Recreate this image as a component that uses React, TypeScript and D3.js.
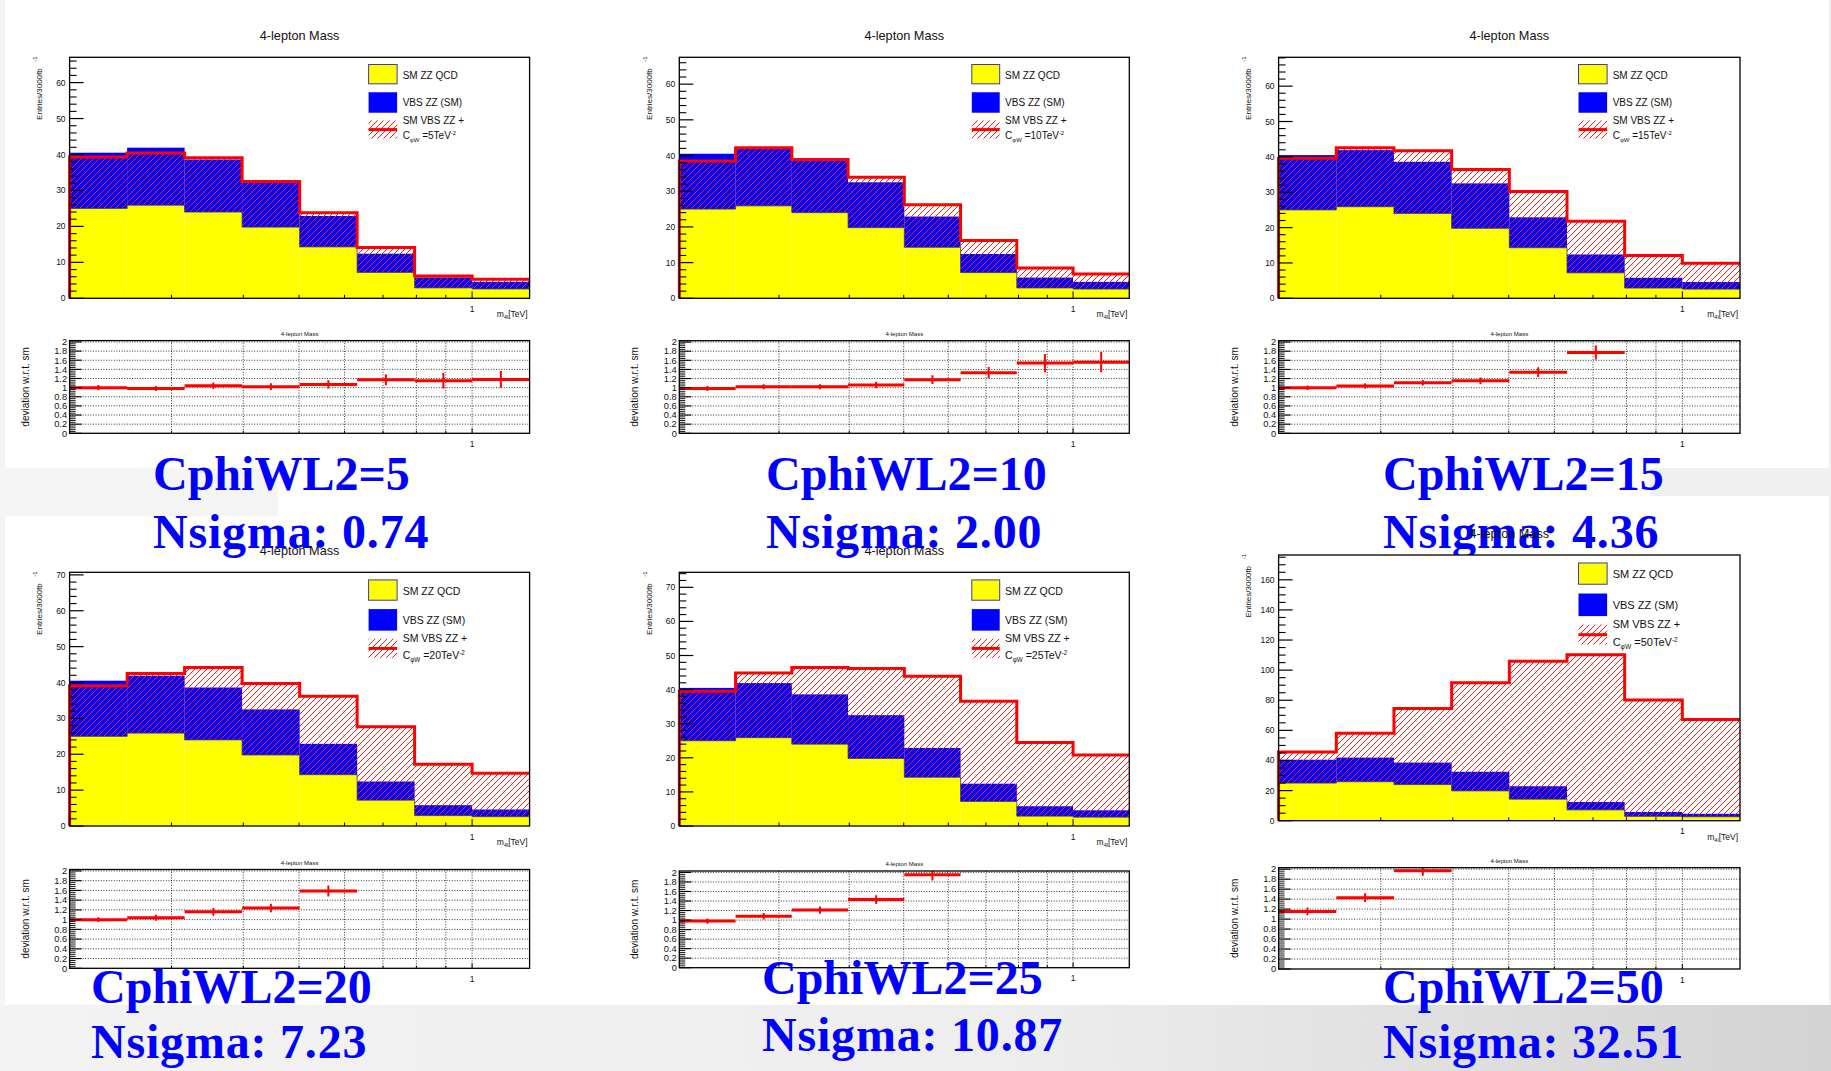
import React from "react";
import * as d3 from "d3";

// ---------------- DATA ----------------
const binEdges = [0.1995, 0.2512, 0.3162, 0.3981, 0.5012, 0.631, 0.7943, 1.0, 1.2589];
const xMinorTicks = [0.3, 0.4, 0.5, 0.6, 0.7, 0.8, 0.9];
const xMajorTicks = [1];
const xTickLabels = ["1"];

// SM ZZ QCD (yellow) and VBS ZZ SM (blue, stacked on QCD)
const smZZQCD = [25.0, 25.9, 24.0, 19.8, 14.3, 7.2, 2.9, 2.6];
const vbsZZSM = [15.5, 16.0, 14.6, 12.7, 8.6, 5.2, 2.9, 2.0];

const cphiValues = [5, 10, 15, 20, 25, 50];
const nsigmaValues = ["0.74", "2.00", "4.36", "7.23", "10.87", "32.51"];

// stacked total (QCD + SM VBS ZZ + EFT), red hatched
const eftC5 = [39.3, 40.4, 39.1, 32.5, 23.8, 14.1, 6.2, 5.3];
const eftC10 = [38.5, 42.2, 38.9, 33.9, 26.2, 16.2, 8.5, 6.8];
const eftC15 = [39.6, 42.6, 41.7, 36.4, 30.2, 21.8, 12.1, 9.9];
const eftC20 = [39.1, 42.5, 44.2, 39.7, 36.2, 27.7, 17.2, 14.7];
const eftC25 = [39.5, 44.9, 46.5, 46.2, 43.9, 36.6, 24.5, 20.8];
const eftC50 = [45.7, 58.1, 74.6, 91.7, 105.9, 110.3, 80.1, 67.2];

// deviation w.r.t. SM (only the bins visible inside 0..2)
const ratioC5 = [1.0, 0.98, 1.04, 1.02, 1.07, 1.17, 1.15, 1.18];
const ratioErrC5 = [0.06, 0.055, 0.07, 0.074, 0.09, 0.12, 0.17, 0.185];
const ratioC10 = [0.98, 1.02, 1.02, 1.06, 1.175, 1.33, 1.54, 1.56];
const ratioErrC10 = [0.055, 0.055, 0.055, 0.07, 0.095, 0.124, 0.2, 0.22];
const ratioC15 = [1.0, 1.036, 1.11, 1.15, 1.34, 1.77];
const ratioErrC15 = [0.05, 0.055, 0.06, 0.075, 0.106, 0.153];
const ratioC20 = [1.0, 1.04, 1.16, 1.24, 1.59];
const ratioErrC20 = [0.05, 0.062, 0.079, 0.086, 0.113];
const ratioC25 = [0.98, 1.08, 1.21, 1.43, 1.95];
const ratioErrC25 = [0.055, 0.07, 0.076, 0.093, 0.117];
const ratioC50 = [1.153, 1.43, 1.97];
const ratioErrC50 = [0.077, 0.087, 0.1];

const eftSeries = [eftC5, eftC10, eftC15, eftC20, eftC25, eftC50];
const ratioSeries = [ratioC5, ratioC10, ratioC15, ratioC20, ratioC25, ratioC50];
const ratioErrSeries = [ratioErrC5, ratioErrC10, ratioErrC15, ratioErrC20, ratioErrC25, ratioErrC50];

// ---------------- LAYOUT ----------------
type Layout = { x0: number; x1: number; y0: number; y1: number; ry0: number; ry1: number };
const layouts: Layout[] = [
  { x0: 69.6, x1: 529.6, y0: 57.3, y1: 298.3, ry0: 340.6, ry1: 433.3 },
  { x0: 679.3, x1: 1129.3, y0: 57.3, y1: 298.3, ry0: 340.7, ry1: 433.3 },
  { x0: 1278.6, x1: 1740, y0: 57.3, y1: 298.3, ry0: 340.7, ry1: 433.3 },
  { x0: 69.6, x1: 529.6, y0: 572.3, y1: 826, ry0: 869.5, ry1: 968.3 },
  { x0: 679.3, x1: 1129.3, y0: 572.3, y1: 826, ry0: 871, ry1: 967.7 },
  { x0: 1278.6, x1: 1740, y0: 555, y1: 820.7, ry0: 867.7, ry1: 969 },
];
const labelPos = [
  { x: 153, y1: 490, y2: 548 },
  { x: 766, y1: 490, y2: 548 },
  { x: 1383, y1: 490, y2: 548 },
  { x: 91, y1: 1003, y2: 1058 },
  { x: 762, y1: 994, y2: 1051 },
  { x: 1383, y1: 1003, y2: 1058 },
];

const SANS = "'Liberation Sans', Arial, Helvetica, sans-serif";
const SERIF = "'Liberation Serif', 'Times New Roman', serif";
const RED = "#ff0000";

function stepPath(x: any, y: any, vals: number[], fromZero: boolean) {
  let d = "";
  vals.forEach((v, i) => {
    const xa = x(binEdges[i]);
    const xb = x(binEdges[i + 1]);
    if (i === 0) d += fromZero ? `M${xa},${y(0)}V${y(v)}H${xb}` : `M${xa},${y(v)}H${xb}`;
    else d += `V${y(v)}H${xb}`;
  });
  return d;
}

function Panel({ idx }: { idx: number }) {
  const L = layouts[idx];
  const eft = eftSeries[idx];
  const cval = cphiValues[idx];
  const W = L.x1 - L.x0;
  const Hm = L.y1 - L.y0;
  const x = d3.scaleLog().domain([binEdges[0], binEdges[8]]).range([L.x0, L.x1]);
  const totals = smZZQCD.map((q, i) => q + vbsZZSM[i]);
  const ymax = 1.6 * (d3.max([...eft, ...totals]) as number);
  const y = d3.scaleLinear().domain([0, ymax]).range([L.y1, L.y0]);
  const major = ymax > 100 ? 20 : 10;
  const minor = ymax > 100 ? 5 : 2;
  const majorTicks = d3.range(0, ymax + 1e-6, major);
  const minorTicks = d3.range(0, ymax, minor).filter((v) => Math.abs(v / major - Math.round(v / major)) > 1e-6);

  const ry = d3.scaleLinear().domain([0, 2.03]).range([L.ry1, L.ry0]);
  const rMajor = d3.range(0, 2.0001, 0.2);
  const rMinor = d3.range(0, 2.03, 0.04).filter((v) => Math.abs(v / 0.2 - Math.round(v / 0.2)) > 1e-6);
  const ratio = ratioSeries[idx];
  const rErr = ratioErrSeries[idx];

  // legend
  const lx = L.x0 + 0.65 * W;
  const bw = 0.062 * W;
  const tx = L.x0 + 0.724 * W;
  const lfs = Hm * 0.0415;
  const clipId = `rclip${idx}`;
  const mclip = `mclip${idx}`;

  return (
    <g>
      <defs>
        <clipPath id={clipId}>
          <rect x={L.x0} y={L.ry0} width={W} height={L.ry1 - L.ry0} />
        </clipPath>
        <clipPath id={mclip}>
          <rect x={L.x0 - 2} y={L.y0} width={W + 2} height={Hm + 2} />
        </clipPath>
      </defs>
      {/* ---- main plot ---- */}
      <text x={(L.x0 + L.x1) / 2} y={L.y0 - 17.5} textAnchor="middle" fontFamily={SANS} fontSize={12.7} fill="#111">
        4-lepton Mass
      </text>
      <rect x={L.x0} y={L.y0} width={W} height={Hm} fill="#fff" />
      {smZZQCD.map((q, i) => (
        <rect key={"yq" + i} x={x(binEdges[i])} y={y(q)} width={x(binEdges[i + 1]) - x(binEdges[i])} height={y(0) - y(q)} fill="#ffff00" />
      ))}
      {totals.map((t, i) => (
        <rect key={"bv" + i} x={x(binEdges[i])} y={y(t)} width={x(binEdges[i + 1]) - x(binEdges[i])} height={y(smZZQCD[i]) - y(t)} fill="#0000ff" />
      ))}
      {eft.map((t, i) => (
        <rect key={"he" + i} x={x(binEdges[i])} y={y(t)} width={x(binEdges[i + 1]) - x(binEdges[i])} height={Math.max(0, y(smZZQCD[i]) - y(t))} fill="url(#hatch)" />
      ))}
      <path d={stepPath(x, y, smZZQCD, false)} fill="none" stroke="#3a3a5a" strokeWidth={0.8} />
      <path d={stepPath(x, y, eft, true)} fill="none" stroke={RED} strokeWidth={3} clipPath={`url(#${mclip})`} />
      <rect x={L.x0} y={L.y0} width={W} height={Hm} fill="none" stroke="#000" strokeWidth={1.3} />
      {/* y ticks */}
      {majorTicks.map((v) => (
        <g key={"ym" + v}>
          <line x1={L.x0} x2={L.x0 + 14} y1={y(v)} y2={y(v)} stroke="#000" strokeWidth={1.2} />
          <text x={L.x0 - 4} y={y(v) + 3} textAnchor="end" fontFamily={SANS} fontSize={8.5} fill="#111">
            {v}
          </text>
        </g>
      ))}
      {minorTicks.map((v) => (
        <line key={"yn" + v} x1={L.x0} x2={L.x0 + 7} y1={y(v)} y2={y(v)} stroke="#000" strokeWidth={1.1} />
      ))}
      {/* x ticks */}
      {xMinorTicks.map((v) => (
        <line key={"xn" + v} x1={x(v)} x2={x(v)} y1={L.y1} y2={L.y1 - 3.5} stroke="#000" strokeWidth={1} />
      ))}
      {xMajorTicks.map((v, i) => (
        <g key={"xm" + v}>
          <line x1={x(v)} x2={x(v)} y1={L.y1} y2={L.y1 - 7} stroke="#000" strokeWidth={1} />
          <text x={x(v)} y={L.y1 + 13.5} textAnchor="middle" fontFamily={SANS} fontSize={8.5} fill="#111">
            {xTickLabels[i]}
          </text>
        </g>
      ))}
      <text x={L.x1 - 2} y={L.y1 + 19} textAnchor="end" fontFamily={SANS} fontSize={8.5} fill="#111">
        m<tspan fontSize={5.5} dy={2}>4l</tspan>
        <tspan dy={-2}>[TeV]</tspan>
      </text>
      <text transform={`translate(${L.x0 - 27.5},${L.y0 + 11}) rotate(-90)`} textAnchor="end" fontFamily={SANS} fontSize={8} fill="#111">
        Entries/3000fb
      </text>
      <text transform={`translate(${L.x0 - 32.5},${L.y0 - 1}) rotate(-90)`} textAnchor="end" fontFamily={SANS} fontSize={6} fill="#111">
        -1
      </text>
      {/* legend */}
      <rect x={lx} y={L.y0 + 0.03 * Hm} width={bw} height={0.08 * Hm} fill="#ffff00" stroke="#3c3ca0" strokeWidth={1} />
      <rect x={lx} y={L.y0 + 0.145 * Hm} width={bw} height={0.085 * Hm} fill="#0000ff" />
      <rect x={lx} y={L.y0 + 0.262 * Hm} width={bw} height={0.075 * Hm} fill="url(#hatch)" />
      <line x1={lx} x2={lx + bw} y1={L.y0 + 0.3 * Hm} y2={L.y0 + 0.3 * Hm} stroke={RED} strokeWidth={3} />
      <text x={tx} y={L.y0 + 0.088 * Hm} fontFamily={SANS} fontSize={lfs} fill="#111">SM ZZ QCD</text>
      <text x={tx} y={L.y0 + 0.203 * Hm} fontFamily={SANS} fontSize={lfs} fill="#111">VBS ZZ (SM)</text>
      <text x={tx} y={L.y0 + 0.276 * Hm} fontFamily={SANS} fontSize={lfs} fill="#111">SM VBS ZZ +</text>
      <text x={tx} y={L.y0 + 0.341 * Hm} fontFamily={SANS} fontSize={lfs} fill="#111">
        C<tspan fontSize={lfs * 0.6} dy={3}>φW</tspan>
        <tspan dy={-3}>{` =${cval}TeV`}</tspan>
        <tspan fontSize={lfs * 0.6} dy={-4}>-2</tspan>
      </text>

      {/* ---- ratio plot ---- */}
      <text x={(L.x0 + L.x1) / 2} y={L.ry0 - 5} textAnchor="middle" fontFamily={SANS} fontSize={6} fill="#111">
        4-lepton Mass
      </text>
      <rect x={L.x0} y={L.ry0} width={W} height={L.ry1 - L.ry0} fill="#fff" />
      {rMajor.filter((v) => v > 0).map((v) => (
        <line key={"rg" + v} x1={L.x0} x2={L.x1} y1={ry(v)} y2={ry(v)} stroke="#000" strokeWidth={0.8} strokeDasharray="1,1.6" />
      ))}
      {[...xMinorTicks, ...xMajorTicks].map((v) => (
        <line key={"rgx" + v} x1={x(v)} x2={x(v)} y1={L.ry0} y2={L.ry1} stroke="#000" strokeWidth={0.8} strokeDasharray="1,1.6" />
      ))}
      <g clipPath={`url(#${clipId})`}>
        {ratio.map((r, i) => {
          const xc = x(Math.sqrt(binEdges[i] * binEdges[i + 1]));
          return (
            <g key={"rp" + i}>
              <line x1={x(binEdges[i])} x2={x(binEdges[i + 1])} y1={ry(r)} y2={ry(r)} stroke={RED} strokeWidth={3} />
              <line x1={xc} x2={xc} y1={ry(r - rErr[i])} y2={ry(r + rErr[i])} stroke={RED} strokeWidth={2} />
            </g>
          );
        })}
      </g>
      <rect x={L.x0} y={L.ry0} width={W} height={L.ry1 - L.ry0} fill="none" stroke="#000" strokeWidth={1.3} />
      {rMajor.map((v) => (
        <g key={"rm" + v}>
          <line x1={L.x0} x2={L.x0 + 12} y1={ry(v)} y2={ry(v)} stroke="#000" strokeWidth={1.1} />
          <text x={L.x0 - 2.5} y={ry(v) + 3.3} textAnchor="end" fontFamily={SANS} fontSize={9.3} fill="#111">
            {String(+v.toFixed(1))}
          </text>
        </g>
      ))}
      {rMinor.map((v) => (
        <line key={"rn" + v} x1={L.x0} x2={L.x0 + 6} y1={ry(v)} y2={ry(v)} stroke="#000" strokeWidth={0.9} />
      ))}
      {xMinorTicks.map((v) => (
        <line key={"rxn" + v} x1={x(v)} x2={x(v)} y1={L.ry1} y2={L.ry1 - 2.5} stroke="#000" strokeWidth={1} />
      ))}
      {xMajorTicks.map((v, i) => (
        <g key={"rxm" + v}>
          <line x1={x(v)} x2={x(v)} y1={L.ry1} y2={L.ry1 - 5} stroke="#000" strokeWidth={1} />
          <text x={x(v)} y={L.ry1 + 13.5} textAnchor="middle" fontFamily={SANS} fontSize={8.5} fill="#111">
            {xTickLabels[i]}
          </text>
        </g>
      ))}
      <text transform={`translate(${L.x0 - 41},${(L.ry0 + L.ry1) / 2}) rotate(-90)`} textAnchor="middle" fontFamily={SANS} fontSize={10} fill="#111">
        deviation w.r.t. sm
      </text>
    </g>
  );
}

function Label({ idx }: { idx: number }) {
  const p = labelPos[idx];
  return (
    <g fontFamily={SERIF} fontWeight="bold" fontSize={48} fill="#0000ff">
      <text x={p.x} y={p.y1}>{`CphiWL2=${cphiValues[idx]}`}</text>
      <text x={p.x} y={p.y2} letterSpacing={0.8}>{`Nsigma: ${nsigmaValues[idx]}`}</text>
    </g>
  );
}

export default function App() {
  return (
    <svg width={1831} height={1071} style={{ position: "absolute", left: 0, top: 0, display: "block" }}>
      <defs>
        <pattern id="hatch" patternUnits="userSpaceOnUse" width={6} height={6}>
          <path d="M-1,1 l2,-2 M0,6 l6,-6 M5,7 l2,-2" stroke="#ff1a1a" strokeWidth={1} />
        </pattern>
        <linearGradient id="bgGrad" x1="0" y1="0" x2="1" y2="0">
          <stop offset="0" stopColor="#f3f3f3" />
          <stop offset="0.55" stopColor="#eeeeee" />
          <stop offset="1" stopColor="#d3d3d3" />
        </linearGradient>
        <linearGradient id="stripGrad" x1="0" y1="0" x2="1" y2="0">
          <stop offset="0" stopColor="#f5f5f5" />
          <stop offset="1" stopColor="#f0f0f0" />
        </linearGradient>
      </defs>
      <rect x={0} y={0} width={1831} height={1071} fill="url(#stripGrad)" />
      <rect x={0} y={1005} width={1831} height={66} fill="url(#bgGrad)" />
      {/* white image areas */}
      <rect x={5} y={0} width={1824} height={468} fill="#fff" />
      <rect x={278} y={466} width={1372} height={60} fill="#fff" />
      <rect x={5} y={516} width={1824} height={489} fill="#fff" />
      <rect x={1640} y={496} width={189} height={30} fill="#fff" />
      {[0, 1, 2].map((i) => (
        <Panel key={i} idx={i} />
      ))}
      {[0, 1, 2].map((i) => (
        <Label key={"l" + i} idx={i} />
      ))}
      {[3, 4, 5].map((i) => (
        <Panel key={i} idx={i} />
      ))}
      {[3, 4, 5].map((i) => (
        <Label key={"l" + i} idx={i} />
      ))}
    </svg>
  );
}
